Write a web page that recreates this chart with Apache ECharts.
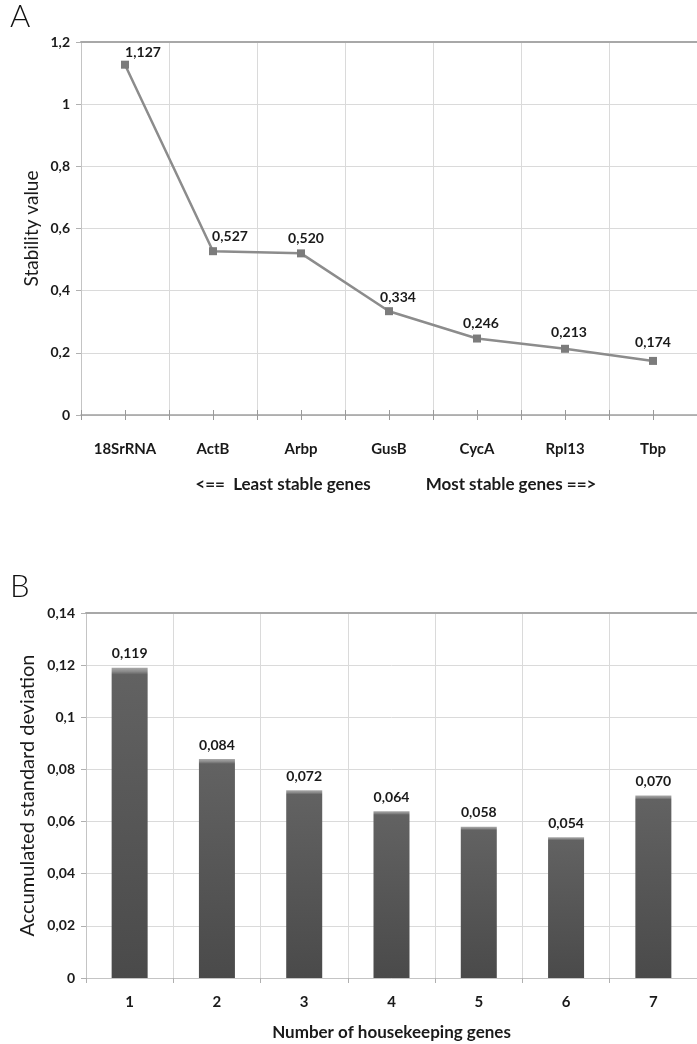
<!DOCTYPE html>
<html>
<head>
<meta charset="utf-8">
<title>Housekeeping gene stability</title>
<script src="https://cdn.jsdelivr.net/npm/echarts@6/dist/echarts.min.js"></script>
<style>
  html, body { margin: 0; padding: 0; background: #ffffff; }
  #chart { width: 697px; height: 1044px; }
</style>
</head>
<body>
<div id="chart"></div>
<script>
// Panel A: stability value per reference gene
const genes = ['18SrRNA', 'ActB', 'Arbp', 'GusB', 'CycA', 'Rpl13', 'Tbp'];
const stability = [1.127, 0.527, 0.520, 0.334, 0.246, 0.213, 0.174];

// Panel B: accumulated standard deviation by number of genes
const geneCounts = ['1', '2', '3', '4', '5', '6', '7'];
const accumulatedSd = [0.119, 0.084, 0.072, 0.064, 0.058, 0.054, 0.070];

// Axis ranges
const stabilityAxis = { min: 0, max: 1.2, interval: 0.2 };
const sdAxis = { min: 0, max: 0.14, interval: 0.02 };

// Small nudges of the value labels in panel A (pixels)
const labelNudges = [[18, 3], [17, 0], [5, 0], [9, 1], [4, 0], [4, -1], [0, -3]];

const FONT = 'Lato, "Open Sans", sans-serif';
const INK = '#1a1a1a';
const GRID_LINE = '#dadada';

const comma = (v, digits) => v.toFixed(digits).replace('.', ',');
const tickFmt = v => String(+Number(v).toFixed(3)).replace('.', ',');

const chart = echarts.init(document.getElementById('chart'), null, { renderer: 'canvas' });

const grids = [
  { left: 81, top: 42, width: 623, height: 373 },
  { left: 86, top: 613, width: 618, height: 365 }
];

function tickAxis(gridIndex, data, alignWithLabel) {
  // crossing tick marks on the category axis
  return {
    gridIndex, type: 'category', data, position: 'bottom', offset: -5,
    axisLine: { show: false, onZero: false },
    axisTick: { show: true, length: 10, alignWithLabel, lineStyle: { color: '#9a9a9a', width: 1 } },
    axisLabel: { show: false }, splitLine: { show: false }
  };
}

function topBorder(gridIndex, data) {
  return {
    gridIndex, type: 'category', data, position: 'top',
    axisLine: { show: true, onZero: false, lineStyle: { color: '#a8a8a8', width: 2 } },
    axisTick: { show: false }, axisLabel: { show: false }, splitLine: { show: false }
  };
}

const option = {
  animation: false,
  backgroundColor: '#ffffff',
  textStyle: { fontFamily: FONT },
  grid: grids,
  xAxis: [
    {
      gridIndex: 0, type: 'category', data: genes, position: 'bottom',
      axisLine: { show: true, onZero: false, lineStyle: { color: '#a0a0a0', width: 1.5 } },
      axisTick: { show: false },
      axisLabel: { margin: 27, fontFamily: FONT, fontWeight: 'bold', fontSize: 15, color: INK },
      splitLine: { show: true, lineStyle: { color: GRID_LINE, width: 1 } }
    },
    tickAxis(0, genes, false),
    tickAxis(0, genes, true),
    topBorder(0, genes),
    {
      gridIndex: 1, type: 'category', data: geneCounts, position: 'bottom',
      name: 'Number of housekeeping genes', nameLocation: 'middle', nameGap: 46,
      nameMoveOverlap: false,
      nameTextStyle: { fontFamily: FONT, fontWeight: 'bold', fontSize: 17, color: INK },
      axisLine: { show: true, onZero: false, lineStyle: { color: '#c4c4c4', width: 1 } },
      axisTick: { show: true, length: 5, lineStyle: { color: '#b0b0b0' } },
      axisLabel: { margin: 17, fontFamily: FONT, fontWeight: 'bold', fontSize: 15, color: INK },
      splitLine: { show: true, lineStyle: { color: GRID_LINE, width: 1 } }
    },
    topBorder(1, geneCounts)
  ],
  yAxis: [
    {
      gridIndex: 0, type: 'value',
      min: stabilityAxis.min, max: stabilityAxis.max, interval: stabilityAxis.interval,
      name: 'Stability value', nameLocation: 'middle', nameGap: 40,
      nameMoveOverlap: false,
      nameTextStyle: { fontFamily: FONT, fontSize: 19, color: INK },
      axisLine: { show: true, lineStyle: { color: '#c4c4c4', width: 1 } },
      axisTick: { show: true, length: 5, lineStyle: { color: '#b0b0b0' } },
      axisLabel: { margin: 11, formatter: tickFmt, fontFamily: FONT, fontWeight: 'bold', fontSize: 14, color: INK },
      splitLine: { show: true, lineStyle: { color: GRID_LINE, width: 1 } }
    },
    {
      gridIndex: 1, type: 'value',
      min: sdAxis.min, max: sdAxis.max, interval: sdAxis.interval,
      name: 'Accumulated standard deviation', nameLocation: 'middle', nameGap: 48,
      nameMoveOverlap: false,
      nameTextStyle: { fontFamily: FONT, fontSize: 20, color: INK },
      axisLine: { show: true, lineStyle: { color: '#c4c4c4', width: 1 } },
      axisTick: { show: true, length: 5, lineStyle: { color: '#b0b0b0' } },
      axisLabel: { margin: 11, formatter: tickFmt, fontFamily: FONT, fontWeight: 'bold', fontSize: 14, color: INK },
      splitLine: { show: true, lineStyle: { color: GRID_LINE, width: 1 } }
    }
  ],
  series: [
    {
      type: 'line', xAxisIndex: 0, yAxisIndex: 0,
      data: stability.map((v, i) => ({ value: v, label: { offset: labelNudges[i] } })),
      symbol: 'rect', symbolSize: 8,
      itemStyle: { color: '#7c7c7c' },
      lineStyle: { color: '#8c8c8c', width: 2.5 },
      label: {
        show: true, position: 'top', distance: 4,
        formatter: p => comma(p.value, 3),
        fontFamily: FONT, fontWeight: 'bold', fontSize: 14, color: INK
      },
      z: 5
    },
    {
      type: 'bar', xAxisIndex: 4, yAxisIndex: 1,
      data: accumulatedSd, barWidth: 36,
      itemStyle: {
        color: new echarts.graphic.LinearGradient(0, 0, 0, 1, [
          { offset: 0, color: '#a9a9a9' },
          { offset: 0.012, color: '#8a8a8a' },
          { offset: 0.022, color: '#626262' },
          { offset: 1, color: '#4a4a4a' }
        ])
      },
      label: {
        show: true, position: 'top', distance: 7,
        formatter: p => comma(p.value, 3),
        fontFamily: FONT, fontWeight: 'bold', fontSize: 14, color: INK
      }
    }
  ],
  graphic: [
    { type: 'text', left: 10, top: 1, style: { text: 'A', font: '300 31px ' + FONT, fill: '#111' } },
    { type: 'text', left: 10, top: 571, style: { text: 'B', font: '300 31px ' + FONT, fill: '#111' } },
    { type: 'text', x: 283, y: 485, style: { text: '<==  Least stable genes', font: 'bold 17px ' + FONT, fill: INK, align: 'center', verticalAlign: 'middle' } },
    { type: 'text', x: 511, y: 485, style: { text: 'Most stable genes ==>', font: 'bold 17px ' + FONT, fill: INK, align: 'center', verticalAlign: 'middle' } }
  ]
};

chart.setOption(option);
</script>
</body>
</html>
